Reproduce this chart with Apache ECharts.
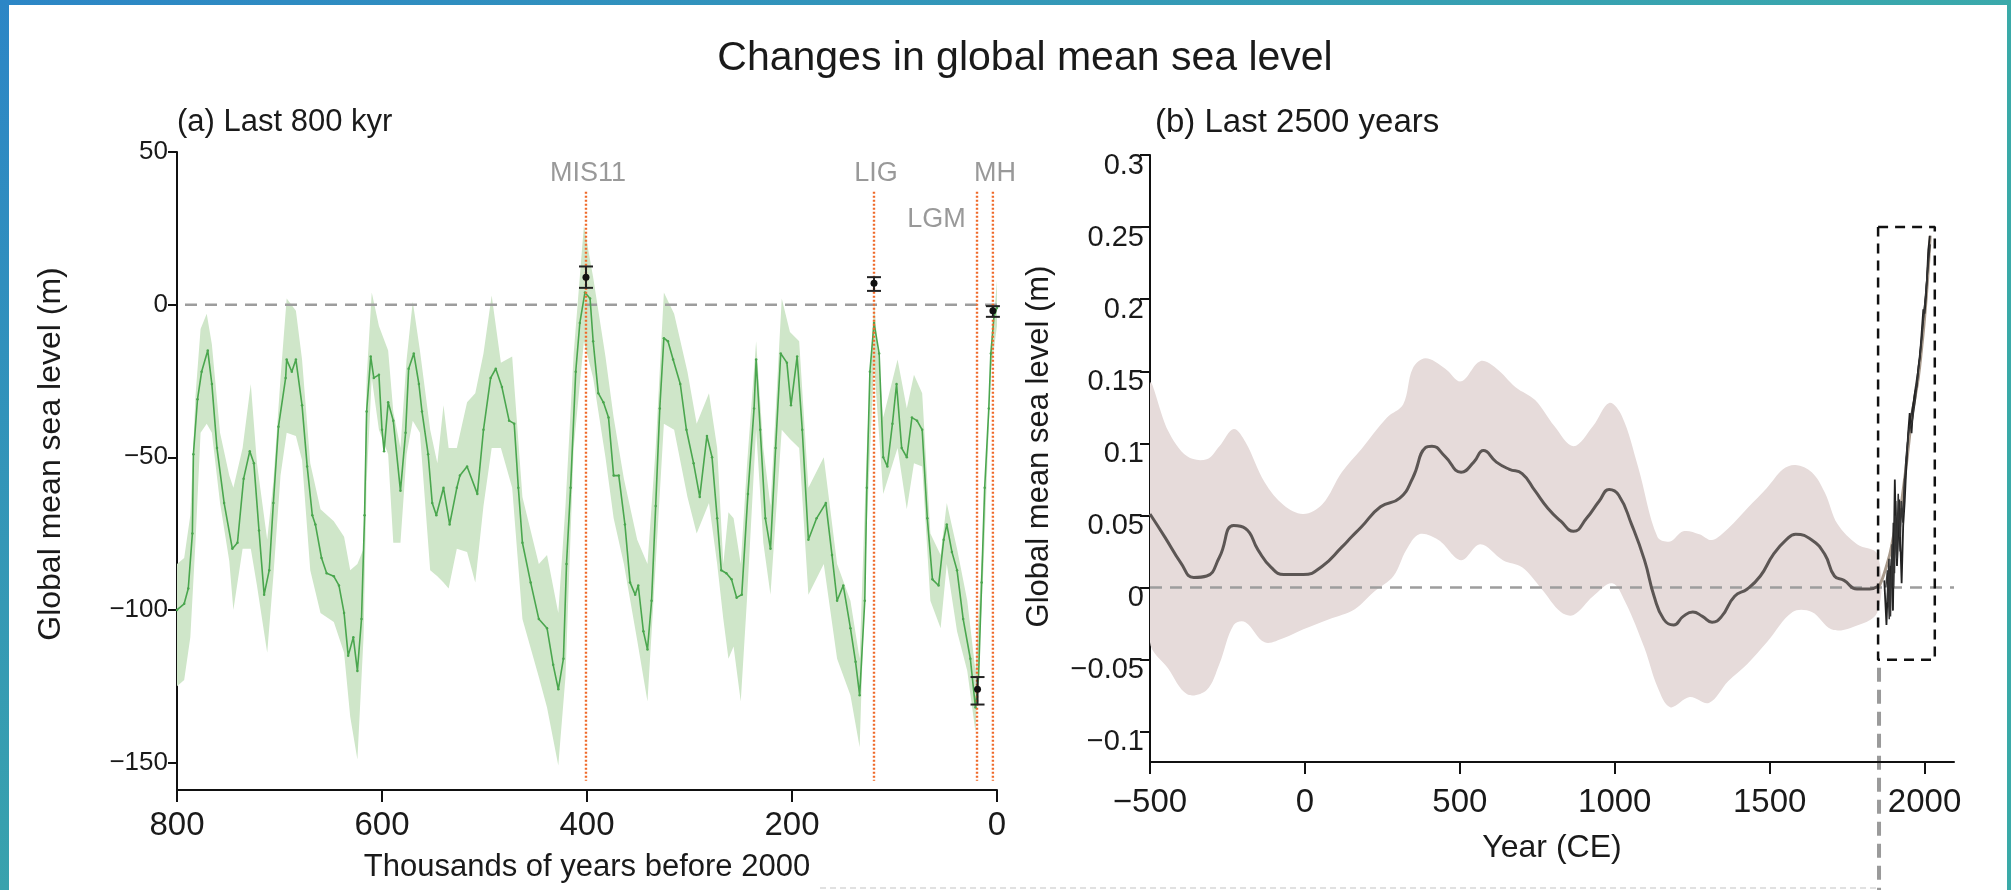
<!DOCTYPE html>
<html>
<head>
<meta charset="utf-8">
<script src="https://cdn.jsdelivr.net/npm/echarts@6/dist/echarts.min.js"></script>
<style>
html,body{margin:0;padding:0;background:#fff;}
#chart{width:2011px;height:890px;}
</style>
</head>
<body>
<div id="chart"></div>
<script>
// ---------- Panel (a): last 800 kyr ----------
const kyrA = [800,793,789,785,784,780,776,770,766,761,754,746,741,735,729,725,720,715,710,706,701,694,693,688,684,678,673,668,665,659,654,647,642,637,633,628,624,620,617,615,611,608,603,600,598,594,589,582,577,574,569,564,561,555,551,547,540,534,527,524,517,507,501,494,489,483,476,471,467,463,455,447,439,433,428,423,420,416,411,407,402,397,394,389,384,379,374,369,363,358,353,350,345,341,337,333,329,325,321,316,309,303,296,290,283,278,273,269,264,259,254,249,243,237,235,231,226,221,216,211,205,201,195,190,184,176,167,161,156,150,143,138,134,129,127,124,120,115,111,107,102,98,93,88,83,78,73,68,63,57,52,49,44,39,33,26,21,18,15,12,8,6,3,0];
const gmslA = [-100,-98,-93,-75,-49,-31,-22,-15,-26,-47,-65,-80,-78,-57,-48,-52,-74,-95,-87,-65,-40,-24,-18,-22,-18,-33,-53,-69,-72,-83,-88,-89,-92,-101,-115,-109,-120,-103,-69,-35,-17,-24,-23,-41,-48,-32,-38,-61,-42,-21,-16,-26,-35,-49,-65,-69,-60,-72,-60,-56,-53,-62,-41,-24,-21,-27,-38,-39,-60,-78,-91,-103,-106,-118,-126,-116,-85,-60,-22,-6,4,2,-12,-29,-32,-37,-56,-56,-72,-91,-95,-92,-107,-113,-97,-66,-34,-11,-12,-18,-26,-41,-52,-63,-43,-50,-70,-87,-88,-90,-96,-95,-62,-34,-18,-41,-70,-80,-47,-16,-19,-33,-17,-41,-77,-70,-65,-82,-97,-92,-106,-117,-128,-97,-60,-22,-6,-16,-50,-53,-39,-26,-47,-50,-37,-38,-41,-70,-90,-92,-77,-72,-81,-87,-103,-116,-132,-122,-91,-60,-34,-16,-4,-1];
const bandKyrA = [800,793,787,782,777,771,766,758,749,745,736,728,722,712,706,699,693,684,678,670,660,647,637,631,624,618,615,610,603,594,589,582,576,570,563,553,546,540,535,527,517,509,501,493,484,473,463,447,439,428,421,413,403,394,382,374,364,351,341,333,325,315,302,293,281,273,267,262,257,250,244,235,228,221,210,202,193,184,169,156,143,134,127,120,111,97,88,81,73,65,55,49,39,29,21,13,6,0];
const bandUpA = [-85,-83,-69,-30,-8,-3,-13,-42,-56,-60,-47,-26,-52,-77,-58,-24,2,-2,-18,-52,-67,-71,-76,-87,-85,-80,-24,4,-7,-15,-35,-47,-18,1,-15,-41,-52,-33,-47,-47,-32,-29,-16,3,-19,-17,-63,-85,-82,-101,-66,-16,26,9,-17,-37,-57,-77,-85,-47,4,-3,-22,-39,-29,-47,-85,-68,-70,-85,-53,-12,-47,-66,2,-9,-12,-60,-50,-85,-97,-116,-47,1,-37,-18,-34,-23,-29,-75,-82,-65,-80,-97,-120,-72,-16,8];
const bandLoA = [-125,-123,-109,-78,-42,-39,-42,-65,-84,-100,-80,-80,-92,-114,-89,-56,-42,-43,-51,-87,-101,-104,-114,-135,-149,-109,-58,-24,-41,-49,-78,-78,-49,-38,-42,-87,-89,-91,-93,-80,-81,-91,-66,-47,-47,-60,-103,-122,-132,-151,-122,-47,-12,-24,-50,-70,-85,-110,-130,-85,-39,-41,-63,-75,-65,-85,-103,-116,-112,-130,-97,-41,-78,-95,-41,-44,-47,-95,-85,-116,-128,-145,-72,-19,-62,-47,-67,-52,-53,-97,-106,-85,-107,-120,-140,-85,-22,-7];
// reference periods (vertical markers) and proxy estimates
const periodNames = ['MIS11','LIG','LGM','MH'];
const periodKyr = [401,120,19.5,4];
const periodLabelKyr = [399,118,59,2];
const periodLabelVal = [43,43,28,43];
const errKyr = [401,120,19,4];
const errMid = [9,7,-126,-2];
const errLow = [5.5,4.5,-131,-4];
const errHigh = [12.5,9,-122,-0.5];
const ticksA_y = [-150,-100,-50,0,50];
const ticksA_x = [0,200,400,600,800];

// ---------- Panel (b): last 2500 years ----------
const yearB = [-500,-452,-400,-359,-317,-276,-230,-192,-151,-109,-68,-5,57,119,150,182,244,306,348,389,410,452,504,545,576,618,660,701,743,784,826,867,909,950,982,1013,1054,1096,1127,1158,1190,1221,1252,1283,1314,1345,1387,1428,1470,1512,1553,1584,1636,1678,1709,1740,1782,1823,1850];
const gmslB = [0.051,0.035,0.017,0.007,0.008,0.021,0.043,0.041,0.026,0.014,0.009,0.009,0.015,0.028,0.035,0.042,0.056,0.062,0.076,0.097,0.098,0.091,0.080,0.087,0.095,0.087,0.082,0.079,0.067,0.055,0.046,0.039,0.048,0.060,0.068,0.064,0.044,0.019,-0.006,-0.022,-0.026,-0.020,-0.017,-0.020,-0.024,-0.020,-0.006,-0.001,0.008,0.023,0.033,0.037,0.033,0.023,0.008,0.005,-0.001,-0.001,0.001];
const upYearB = [-500,-442,-380,-317,-276,-230,-192,-130,-68,-5,57,119,182,265,317,348,389,452,504,566,618,680,743,805,867,930,982,1023,1075,1138,1179,1221,1273,1314,1366,1428,1491,1543,1584,1636,1678,1719,1782,1848];
const upB = [0.141,0.109,0.091,0.089,0.098,0.110,0.101,0.073,0.057,0.051,0.058,0.080,0.096,0.118,0.127,0.152,0.159,0.152,0.143,0.157,0.152,0.139,0.130,0.112,0.098,0.112,0.128,0.119,0.084,0.035,0.032,0.039,0.037,0.033,0.041,0.055,0.069,0.082,0.085,0.080,0.066,0.044,0.030,0.023];
const loYearB = [-500,-442,-380,-317,-276,-230,-192,-130,-68,-5,78,161,223,286,327,369,431,504,566,639,701,764,826,867,930,992,1034,1096,1138,1179,1242,1304,1366,1428,1491,1574,1636,1699,1761,1848];
const loB = [-0.038,-0.056,-0.074,-0.071,-0.053,-0.026,-0.024,-0.038,-0.035,-0.029,-0.022,-0.015,-0.003,0.008,0.026,0.037,0.033,0.019,0.030,0.019,0.014,-0.001,-0.017,-0.019,-0.006,0.003,-0.010,-0.042,-0.069,-0.083,-0.076,-0.080,-0.065,-0.053,-0.038,-0.017,-0.017,-0.029,-0.028,-0.017];
// instrumental era (inside dashed box)
const smoothYears = [1850,1860,1870,1880,1890,1900,1910,1920,1930,1940,1950,1960,1970,1980,1990,2000,2010,2018];
const smoothVals = [0.000,0.004,0.010,0.017,0.025,0.036,0.045,0.052,0.066,0.083,0.102,0.120,0.133,0.146,0.165,0.187,0.215,0.244];
const instYearsA = [1870,1877,1883,1888,1893,1898,1904,1908,1911,1915,1918,1922,1926,1931,1936,1941,1947,1952,1958,1963,1969,1975,1980,1985,1990,1996,2000,2004,2008,2012,2017];
const instValsA = [0.005,-0.026,0.010,-0.004,0.020,-0.016,0.075,0.030,0.015,0.040,0.061,0.030,0.003,0.043,0.060,0.084,0.107,0.121,0.107,0.125,0.135,0.140,0.153,0.160,0.175,0.193,0.190,0.200,0.215,0.234,0.244];
const instYearsB = [1880,1885,1890,1895,1900,1905,1910,1915,1920,1925,1930,1940,1950,1960,1970,1980,1990,2000,2010,2018];
const instValsB = [-0.010,0.020,-0.020,0.030,0.000,0.050,0.020,0.065,0.035,0.055,0.050,0.090,0.110,0.115,0.130,0.150,0.170,0.195,0.220,0.238];
const instYearsC = [1875,1880,1886,1890,1894,1899,1903,1907,1912,1916,1921,1925,1930,1935,1940,1945,1950,1955,1960,1965,1970,1975,1980,1985,1990,1995,2000,2005,2010,2015];
const instValsC = [0.000,0.012,-0.022,0.015,0.000,0.045,0.010,0.060,0.020,0.050,0.025,0.060,0.045,0.075,0.080,0.100,0.112,0.118,0.124,0.130,0.138,0.145,0.152,0.163,0.172,0.185,0.195,0.205,0.222,0.238];
const boxYears = [1850,2033];
const boxVals = [-0.05,0.25];
const ticksB_x = [-500,0,500,1000,1500,2000];
const ticksB_y = [-0.1,-0.05,0,0.05,0.1,0.15,0.2,0.25,0.3];

// ---------- styles ----------
const FONT = "'Liberation Sans',Arial,Helvetica,sans-serif";
const INK = '#1a1a1a';
const GREEN = '#4aa64e';
const GREEN_BAND = '#cfe6c9';
const PINK_BAND = '#e6dbda';
const ORANGE = '#ef6a2a';

const chart = echarts.init(document.getElementById('chart'), null, {renderer:'canvas'});

function bandSeries(xi, xs, up, loXs, lo, color, smooth) {
  return {
    type:'custom', xAxisIndex:xi, yAxisIndex:xi, silent:true, clip:true, z:1,
    data:[[xs[0], up[0]]],
    renderItem:(params, api) => {
      const pts = [];
      for (let i = 0; i < xs.length; i++) pts.push(api.coord([xs[i], up[i]]));
      for (let i = lo.length - 1; i >= 0; i--) pts.push(api.coord([loXs[i], lo[i]]));
      return {type:'polygon', shape:{points:pts, smooth:smooth}, style:{fill:color, stroke:null}};
    }
  };
}
function lineSeries(xi, xs, ys, style, extra) {
  return Object.assign({
    type:'line', xAxisIndex:xi, yAxisIndex:xi, silent:true, symbol:'none',
    data: xs.map((x, i) => [x, ys[i]]), lineStyle:style, animation:false
  }, extra || {});
}
const minusFmt = (v) => (v < 0 ? '\u2212' + String(Math.abs(Math.round(v*100)/100)) : String(Math.round(v*100)/100));

const series = [];
// panel a
series.push(bandSeries(0, bandKyrA, bandUpA, bandKyrA, bandLoA, GREEN_BAND, 0));
series.push(lineSeries(0, [0,800], [0,0], {color:'#9d9d9d', width:2.5, type:[12,8]}, {z:2}));
series.push(lineSeries(0, kyrA, gmslA, {color:GREEN, width:1.6}, {z:3, symbol:'circle', symbolSize:2.5, showSymbol:true, itemStyle:{color:GREEN}}));
periodKyr.forEach((k) => {
  series.push(lineSeries(0, [k,k], [37,-156], {color:ORANGE, width:2.4, type:[2,2]}, {z:4}));
});
series.push({
  type:'custom', xAxisIndex:0, yAxisIndex:0, silent:true, z:5,
  data: errKyr.map((k, i) => [k, errMid[i], errLow[i], errHigh[i]]),
  encode:{x:0, y:[1,2,3]},
  renderItem:(params, api) => {
    const x = api.value(0);
    const pM = api.coord([x, api.value(1)]);
    const pL = api.coord([x, api.value(2)]);
    const pH = api.coord([x, api.value(3)]);
    const w = 7;
    const st = {stroke:'#222', lineWidth:2};
    return {type:'group', children:[
      {type:'line', shape:{x1:pH[0], y1:pH[1], x2:pL[0], y2:pL[1]}, style:st},
      {type:'line', shape:{x1:pH[0]-w, y1:pH[1], x2:pH[0]+w, y2:pH[1]}, style:st},
      {type:'line', shape:{x1:pL[0]-w, y1:pL[1], x2:pL[0]+w, y2:pL[1]}, style:st},
      {type:'circle', shape:{cx:pM[0], cy:pM[1], r:3.5}, style:{fill:'#111'}}
    ]};
  }
});
series.push({
  type:'scatter', xAxisIndex:0, yAxisIndex:0, silent:true, z:6, symbolSize:1,
  itemStyle:{color:'rgba(0,0,0,0)'},
  data: periodNames.map((n, i) => ({name:n, value:[periodLabelKyr[i], periodLabelVal[i]]})),
  label:{show:true, position:'inside', formatter:'{b}', color:'#7f7f7f', fontFamily:FONT, fontSize:27}
});
// panel b
series.push(bandSeries(1, upYearB, upB, loYearB, loB, PINK_BAND, 0.35));
series.push(lineSeries(1, [-500,2095], [0,0], {color:'#9d9d9d', width:2.5, type:[12,8]}, {z:2}));
series.push(lineSeries(1, yearB, gmslB, {color:'#5c5654', width:3}, {z:3, smooth:0.5}));
series.push(lineSeries(1, smoothYears, smoothVals, {color:'#a89a8c', width:3}, {z:3, smooth:0.5}));
series.push(lineSeries(1, instYearsC, instValsC, {color:'#3a3a3a', width:1.5}, {z:4}));
series.push(lineSeries(1, instYearsA, instValsA, {color:'#222', width:1.8}, {z:4}));
series.push(lineSeries(1, instYearsB, instValsB, {color:'#333', width:1.5}, {z:4}));
series.push(lineSeries(1,
  [boxYears[0], boxYears[1], boxYears[1], boxYears[0], boxYears[0]],
  [boxVals[1], boxVals[1], boxVals[0], boxVals[0], boxVals[1]],
  {color:'#111', width:2.5, type:[10,7]}, {z:5}));

const axisLineStyle = {color:'#111', width:2};
const option = {
  animation:false,
  backgroundColor:'#ffffff',
  title:[
    {text:'Changes in global mean sea level', left:1020, top:33, textAlign:'center',
     textStyle:{fontFamily:FONT, fontSize:41, fontWeight:'normal', color:INK}},
    {text:'(a) Last 800 kyr', left:172, top:102,
     textStyle:{fontFamily:FONT, fontSize:31, fontWeight:'normal', color:INK}},
    {text:'(b) Last 2500 years', left:1150, top:101,
     textStyle:{fontFamily:FONT, fontSize:33, fontWeight:'normal', color:INK}}
  ],
  grid:[
    {left:177, top:152, width:820, height:638},
    {left:1150, top:155, width:804, height:607}
  ],
  xAxis:[
    {gridIndex:0, type:'value', inverse:true, min:0, max:800, interval:200,
     name:'Thousands of years before 2000', nameLocation:'middle', nameGap:62,
     nameTextStyle:{fontFamily:FONT, fontSize:31, color:INK},
     axisLine:{onZero:false, lineStyle:axisLineStyle}, splitLine:{show:false},
     axisTick:{length:12, lineStyle:axisLineStyle, customValues:ticksA_x},
     axisLabel:{margin:19, fontFamily:FONT, fontSize:33, color:INK, customValues:ticksA_x}},
    {gridIndex:1, type:'value', min:-500, max:2095, interval:500,
     name:'Year (CE)', nameLocation:'middle', nameGap:70,
     nameTextStyle:{fontFamily:FONT, fontSize:32, color:INK},
     axisLine:{onZero:false, lineStyle:axisLineStyle}, splitLine:{show:false},
     axisTick:{length:12, lineStyle:axisLineStyle, customValues:ticksB_x},
     axisLabel:{margin:24, fontFamily:FONT, fontSize:33, color:INK, customValues:ticksB_x, formatter:minusFmt}}
  ],
  yAxis:[
    {gridIndex:0, type:'value', min:-159, max:50, interval:50,
     name:'Global mean sea level (m)', nameLocation:'middle', nameGap:110, nameRotate:90,
     nameTextStyle:{fontFamily:FONT, fontSize:32, color:INK, padding:[0,0,0,34]},
     axisLine:{show:true, onZero:false, lineStyle:axisLineStyle}, splitLine:{show:false},
     axisTick:{show:true, length:9, lineStyle:axisLineStyle, customValues:ticksA_y},
     axisLabel:{margin:9, fontFamily:FONT, fontSize:26, color:INK, customValues:ticksA_y, formatter:minusFmt}},
    {gridIndex:1, type:'value', min:-0.121, max:0.3, interval:0.05,
     name:'Global mean sea level (m)', nameLocation:'middle', nameGap:95, nameRotate:90,
     nameTextStyle:{fontFamily:FONT, fontSize:31, color:INK, padding:[0,0,0,24]},
     axisLine:{show:true, onZero:false, lineStyle:axisLineStyle}, splitLine:{show:false},
     axisTick:{show:true, length:10, lineStyle:axisLineStyle, customValues:ticksB_y},
     axisLabel:{margin:6, fontFamily:FONT, fontSize:29, color:INK, customValues:ticksB_y,
       verticalAlign:'top', lineHeight:29, padding:[-4,0,0,0], formatter:minusFmt}}
  ],
  series: series
};
chart.setOption(option);

// decorative frame and the connector below the dashed box (positioned through the chart's scales)
const pBox = chart.convertToPixel({gridIndex:1}, [boxYears[0] + 3, boxVals[0]]);
chart.setOption({
  graphic:[
    {type:'rect', left:0, top:0, shape:{width:9, height:890}, silent:true,
     style:{fill:new echarts.graphic.LinearGradient(0,0,0,1,[{offset:0,color:'#2c86c6'},{offset:1,color:'#39a2ad'}])}},
    {type:'rect', left:0, top:0, shape:{width:2011, height:5}, silent:true,
     style:{fill:new echarts.graphic.LinearGradient(0,0,1,0,[{offset:0,color:'#2c86c6'},{offset:1,color:'#3aa9ab'}])}},
    {type:'rect', left:2007, top:0, shape:{width:4, height:890}, silent:true, style:{fill:'#3aaaa8'}},
    {type:'line', silent:true, shape:{x1:pBox[0], y1:pBox[1] + 8, x2:pBox[0], y2:890},
     style:{stroke:'#9a9a9a', lineWidth:4, lineDash:[14,8]}},
    {type:'line', silent:true, shape:{x1:820, y1:888, x2:pBox[0], y2:888},
     style:{stroke:'#d8d8d8', lineWidth:1.5, lineDash:[6,4]}}
  ]
});
</script>
</body>
</html>
